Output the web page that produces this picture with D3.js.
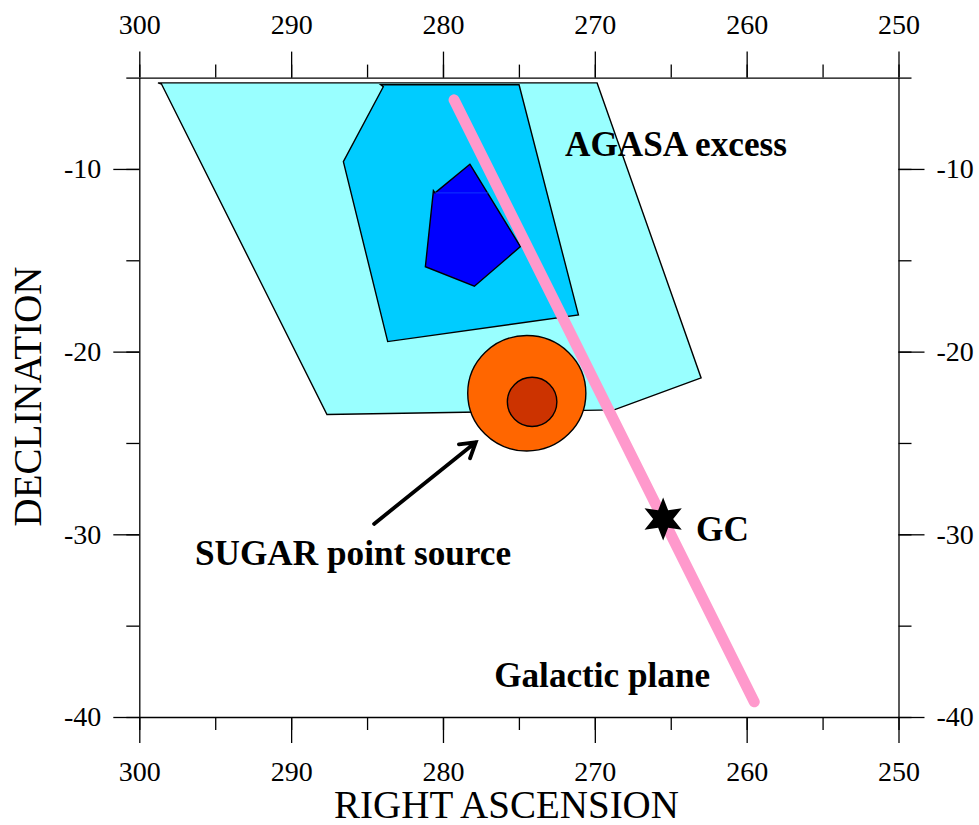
<!DOCTYPE html>
<html>
<head>
<meta charset="utf-8">
<script src="https://cdn.jsdelivr.net/npm/d3@7"></script>
<style>
  body { margin: 0; background: #fff; }
  svg { display: block; }
  text { font-family: "Liberation Serif", serif; fill: #000; }
</style>
</head>
<body>
<div id="chart"></div>
<script>
// all positions in [right ascension, declination]
var raTicks = [300, 295, 290, 285, 280, 275, 270, 265, 260, 255, 250];
var decTicks = [-40, -35, -30, -25, -20, -15, -10, -5];
var raMajor = [300, 290, 280, 270, 260, 250];
var decMajor = [-40, -30, -20, -10];

var excessOuter = [[298.77, -5.29], [298.54, -5.35], [287.64, -23.44], [268.73, -23.19], [263.0, -21.44], [269.85, -5.29]];
var excessMiddle = [[284.1, -5.39], [283.93, -5.5], [286.56, -9.6], [283.64, -19.45], [271.08, -17.99], [274.99, -5.39]];
var excessInner = [[278.23, -9.74], [274.9, -14.25], [277.93, -16.42], [281.16, -15.35], [280.63, -11.19], [280.52, -11.31]];
var innerSeam = [[280.52, -11.31], [277.0, -11.31]];

var galacticPlane = [[279.27, -6.22], [259.5, -39.17]];
var galacticCentre = [265.5, -29.16];

// centre ra, centre dec, radius in ra, radius in dec
var sugarOuter = [274.48, -22.28, 3.89, 3.16];
var sugarInner = [274.13, -22.75, 1.63, 1.35];
var sugarArrow = [[284.54, -29.43], [277.84, -24.96]];

var noteLabels = ["AGASA excess", "SUGAR point source", "GC", "Galactic plane"];
var notePositions = [[271.96, -9.29], [296.33, -31.68], [263.33, -30.36], [276.63, -38.35]];

var width = 979, height = 825;
var x = d3.scaleLinear().domain([300, 250]).range([139.3, 898.5]);
var y = d3.scaleLinear().domain([-40, -5]).range([717, 77.6]);

var svg = d3.select("#chart").append("svg")
    .attr("width", width)
    .attr("height", height);

var polyLine = d3.line()
    .x(function (d) { return x(d[0]); })
    .y(function (d) { return y(d[1]); });

function drawPoly(points, fill) {
    svg.append("path")
        .attr("d", polyLine(points) + "Z")
        .attr("fill", fill)
        .attr("stroke", "#000")
        .attr("stroke-width", 1.4)
        .attr("stroke-linejoin", "miter");
}

drawPoly(excessOuter, "#99ffff");
drawPoly(excessMiddle, "#00ccff");
drawPoly(excessInner, "#0000ff");

svg.append("path")
    .attr("d", polyLine(innerSeam))
    .attr("fill", "none")
    .attr("stroke", "#1144ff")
    .attr("stroke-width", 0.8);

function drawSugar(c, fill) {
    svg.append("ellipse")
        .attr("cx", x(c[0]))
        .attr("cy", y(c[1]))
        .attr("rx", Math.abs(x(c[0] + c[2]) - x(c[0])))
        .attr("ry", Math.abs(y(c[1] + c[3]) - y(c[1])))
        .attr("fill", fill)
        .attr("stroke", "#000")
        .attr("stroke-width", 1.4);
}

drawSugar(sugarOuter, "#ff6600");
drawSugar(sugarInner, "#cc3300");

svg.append("path")
    .attr("d", polyLine(galacticPlane))
    .attr("fill", "none")
    .attr("stroke", "#ff99cc")
    .attr("stroke-width", 11)
    .attr("stroke-linecap", "round");

// six pointed star
var starRadii = d3.range(12).map(function (i) { return i % 2 ? 10 : 21.5; });
var star = d3.lineRadial()
    .angle(function (d, i) { return i * Math.PI / 6; })
    .radius(function (d) { return d; })
    .curve(d3.curveLinearClosed);

svg.append("path")
    .attr("transform", "translate(" + x(galacticCentre[0]) + "," + y(galacticCentre[1]) + ")")
    .attr("d", star(starRadii))
    .attr("fill", "#000");

// arrow
var tail = [x(sugarArrow[0][0]), y(sugarArrow[0][1])];
var tip = [x(sugarArrow[1][0]), y(sugarArrow[1][1])];
var ang = Math.atan2(tip[1] - tail[1], tip[0] - tail[0]);
var barb = 17;
var barbA = [tip[0] - barb * Math.cos(ang - 0.55), tip[1] - barb * Math.sin(ang - 0.55)];
var barbB = [tip[0] - barb * Math.cos(ang + 0.55), tip[1] - barb * Math.sin(ang + 0.55)];
var plainLine = d3.line();

svg.append("path")
    .attr("d", plainLine([tail, tip]) + plainLine([barbA, tip, barbB]))
    .attr("fill", "none")
    .attr("stroke", "#000")
    .attr("stroke-width", 3.8)
    .attr("stroke-linecap", "round")
    .attr("stroke-linejoin", "miter");

// axes, minor ticks first then the labelled ones
function addAxis(axisFn, scale, translate, minor, major) {
    svg.append("g")
        .attr("transform", "translate(" + translate + ")")
        .call(axisFn(scale).tickValues(minor).tickSize(13).tickSizeOuter(0).tickFormat(""))
        .call(styleAxis);
    var vertical = axisFn === d3.axisTop || axisFn === d3.axisBottom;
    var g = svg.append("g")
        .attr("transform", "translate(" + translate + ")")
        .call(axisFn(scale).tickValues(major).tickSize(26).tickSizeOuter(0)
            .tickPadding(vertical ? 18 : 12)
            .tickFormat(function (d) { return String(d); }))
        .call(styleAxis);
    g.select(".domain").remove();
}

function styleAxis(g) {
    g.attr("font-family", null).attr("font-size", null);
    g.selectAll(".domain, .tick line").attr("stroke", "#000").attr("stroke-width", 1.3);
    g.selectAll("text").style("font-size", "28px").style("font-family", '"Liberation Serif", serif').attr("fill", "#000");
}

addAxis(d3.axisBottom, x, "0,717", raTicks, raMajor);
addAxis(d3.axisTop, x, "0,77.6", raTicks, raMajor);
addAxis(d3.axisLeft, y, "139.3,0", decTicks, decMajor);
addAxis(d3.axisRight, y, "898.5,0", decTicks, decMajor);

svg.append("text")
    .attr("x", 506.5)
    .attr("y", 818)
    .attr("text-anchor", "middle")
    .style("font-size", "39px")
    .text("RIGHT ASCENSION");

svg.append("text")
    .attr("transform", "translate(41,396.5) rotate(-90)")
    .attr("text-anchor", "middle")
    .style("font-size", "39px")
    .text("DECLINATION");

svg.selectAll("text.note")
    .data(noteLabels)
    .enter().append("text")
    .attr("class", "note")
    .attr("x", function (d, i) { return x(notePositions[i][0]); })
    .attr("y", function (d, i) { return y(notePositions[i][1]); })
    .style("font-size", "35.2px")
    .style("font-weight", "bold")
    .text(function (d) { return d; });
</script>
</body>
</html>
